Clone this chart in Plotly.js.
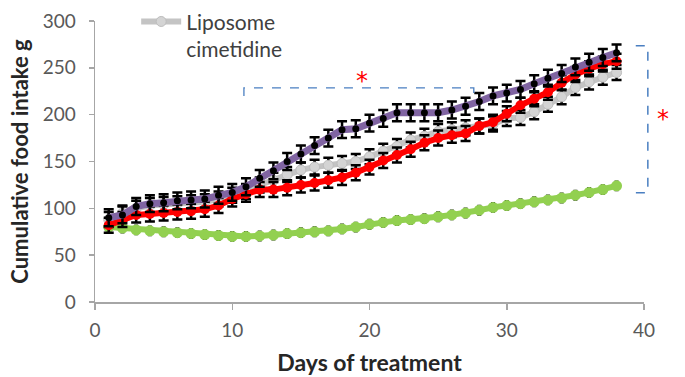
<!DOCTYPE html>
<html>
<head>
<meta charset="utf-8">
<script src="https://cdn.plot.ly/plotly-3.0.1.min.js"></script>
<style>html,body{margin:0;padding:0;background:#fff;}#chart{width:685px;height:377px;}</style>
</head>
<body>
<div id="chart"></div>
<script>
var days = [1,2,3,4,5,6,7,8,9,10,11,12,13,14,15,16,17,18,19,20,21,22,23,24,25,26,27,28,29,30,31,32,33,34,35,36,37,38];

var purpleVals = [90,93,102,105,106,108,109,110,114,117,123,132,140,150,158,167,175,184,185,191,196,202,202,202,202,205,209,214,220,223,227,233,239,244,251,256,261,266];
var purpleErr  = [9,9,9,9,9,9,9,9,9,9,9,9,9,9,9,9,9,9,9,9,9,9,9,9,9,9,9,9,9,9,9,9,9,9,9,9,9,9];

var redVals = [82,88,93,94,95,96,97,99,103,110,115,120,120,122,125,127,130,133,138,144,151,157,163,170,175,178,180,188,192,201,210,217,224,234,243,249,254,257];
var redErr  = [8,8,8,8,8,8,8,8,8,8,8,8,8,8,8,8,8,8,8,8,8,8,8,8,8,8,8,8,8,8,8,8,8,8,8,8,8,8];

var grayVals = [88,95,100,103,104,105,106,107,110,114,118,125,130,136,141,144,146,148,150,155,161,166,173,177,182,184,186,188,190,196,197,203,211,219,229,235,240,245];
var grayErr  = [8,8,8,8,8,8,8,8,8,8,8,8,8,8,8,8,8,8,8,8,8,8,8,8,8,8,8,8,8,8,8,8,8,8,8,8,8,8];

var greenVals = [80,79,77,76,75,74,73,72,71,70,70,70.5,71.5,73,74,75,76,78,80,83,85,87,88,89,91,93,95,98,101,103,105,107,109,111,114,117,120,124];
var greenErr  = [5,5,5,5,5,5,5,5,5,5,5,5,5,5,5,5,5,5,5,5,5,5,5,5,5,5,5,5,5,5,5,5,5,5,5,5,5,5];

var legendName = "Liposome<br>cimetidine";
var xTitle = "Days of treatment";
var yTitle = "Cumulative food intake g";

function err(arr){ return {type:'data', array:arr, visible:true, color:'#000', thickness:2.5, width:5}; }

var traces = [
  {x:days, y:greenVals, mode:'lines+markers', showlegend:false,
   line:{color:'#92d050', width:6}, marker:{color:'#92d050', size:11},
   error_y:{type:'data', array:greenErr, visible:true, color:'#222', thickness:1.5, width:2}},
  {x:days, y:grayVals, mode:'lines+markers', name:legendName, showlegend:true,
   line:{color:'#c4c4c4', width:6}, marker:{color:'#d4d4d4', size:10, line:{color:'#bdbdbd', width:1}},
   error_y:err(grayErr)},
  {x:days, y:redVals, mode:'lines+markers', showlegend:false,
   line:{color:'#ff0000', width:6}, marker:{color:'#ff0000', size:10},
   error_y:err(redErr)},
  {x:days, y:purpleVals, mode:'lines+markers', showlegend:false,
   line:{color:'#8064a2', width:7}, marker:{color:'#000000', size:7},
   error_y:err(purpleErr)}
];

var blue = '#4a7fc1';
var layout = {
  width:685, height:377,
  margin:{l:95, r:41, t:21, b:75, autoexpand:false},
  paper_bgcolor:'#fff', plot_bgcolor:'#fff',
  font:{family:'Lato, "Open Sans", sans-serif', color:'#595959', size:18},
  xaxis:{range:[0,40], dtick:10, tick0:0, showgrid:false, zeroline:false,
         showline:true, linecolor:'#a6a6a6', linewidth:1.5,
         ticks:'outside', ticklen:6, tickcolor:'#a6a6a6', tickwidth:1.5,
         ticklabelstandoff:5, automargin:false,
         tickfont:{size:19, color:'#595959'},
         title:{text:'<b>'+xTitle+'</b>', font:{size:23, color:'#262626'}, standoff:14}},
  yaxis:{range:[0,300], dtick:50, tick0:0, showgrid:false, zeroline:false,
         showline:true, linecolor:'#a6a6a6', linewidth:1.5,
         ticks:'outside', ticklen:5, tickcolor:'#a6a6a6', tickwidth:1.5,
         ticklabelstandoff:9, automargin:false,
         tickfont:{size:19, color:'#595959'},
         title:{text:'<b>'+yTitle+'</b>', font:{size:22, color:'#262626'}, standoff:8}},
  legend:{x:0.075, y:1.07, xanchor:'left', yanchor:'top', valign:'top', itemwidth:40,
          bgcolor:'rgba(0,0,0,0)', font:{size:21, color:'#404040'}},
  shapes:[
    {type:'path', xref:'x', yref:'y', path:'M 10.85 220 L 10.85 228.5 L 27.6 228.5 L 27.6 220',
     line:{color:blue, width:1.3, dash:'dash'}},
    {type:'path', xref:'paper', yref:'paper', path:'M 0.985 0.912 L 1.007 0.912 L 1.007 0.389 L 0.985 0.389',
     line:{color:blue, width:1.5, dash:'dash'}}
  ],
  annotations:[
    {xref:'x', yref:'y', x:19.45, y:236, text:'*', showarrow:false, font:{family:'DejaVu Sans', size:24, color:'#ff0000'}},
    {xref:'paper', yref:'paper', x:1.05, y:0.65, text:'*', showarrow:false, font:{family:'DejaVu Sans', size:24, color:'#ff0000'}}
  ]
};

Plotly.newPlot('chart', traces, layout, {displayModeBar:false, staticPlot:true});
</script>
</body>
</html>
